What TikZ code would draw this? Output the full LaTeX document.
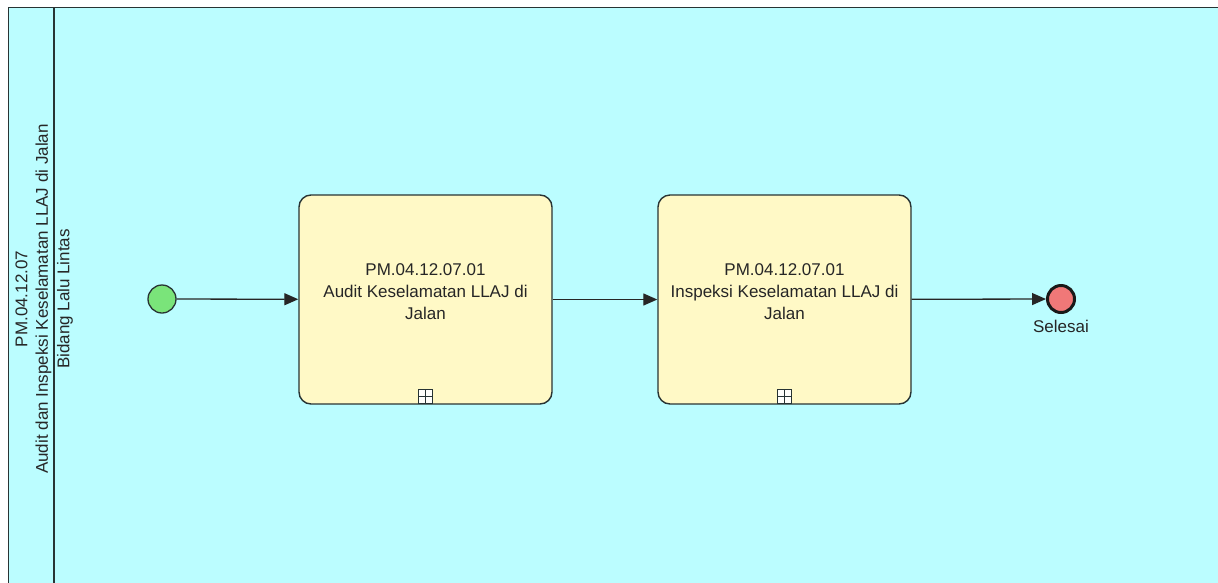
\documentclass[tikz,border=0pt]{standalone}
\usepackage{fontspec}
\setmainfont{Liberation Sans}
\usetikzlibrary{arrows.meta}
\definecolor{poolbg}{RGB}{187,253,255}
\definecolor{taskfill}{RGB}{255,249,198}
\definecolor{edgecol}{RGB}{40,52,52}
\definecolor{startfill}{RGB}{122,228,122}
\definecolor{endfill}{RGB}{240,120,120}
\tikzset{
  txt/.style={font=\fontsize{17}{21.7}\selectfont, inner sep=0pt, align=center, text=black!85},
  task/.style={draw=edgecol, line width=1.4pt, fill=taskfill, rounded corners=12pt,
    minimum width=253pt, minimum height=209pt, inner sep=0pt},
  startev/.style={circle, draw=edgecol, line width=1.3pt, fill=startfill, minimum size=28pt, inner sep=0pt},
  endev/.style={circle, draw=black!90, line width=3pt, fill=endfill, minimum size=27pt, inner sep=0pt},
  flow/.style={draw=black!85, line width=1.3pt, -{Triangle[length=14pt,width=12pt]}},
  marker/.style={draw=edgecol, line width=1pt, fill=white!95!taskfill, minimum size=14pt, inner sep=0pt},
}
\begin{document}
\begin{tikzpicture}[x=1pt,y=-1pt]
\useasboundingbox (0,0) rectangle (1218,582);
\fill[white] (0,0) rectangle (1218,582);
% pool
\draw[draw=edgecol, line width=1.6pt, fill=poolbg] (8.5,7.5) rectangle (1240,610);
\draw[draw=edgecol, line width=2.6pt] (54,7.5) -- (54,610);
% lane labels
\node[txt, rotate=90, font=\fontsize{17}{20.5}\selectfont] (pool) at (33.5,299)
  {PM.04.12.07\\Audit dan Inspeksi Keselamatan LLAJ di Jalan};
\node[txt, rotate=90] (lane) at (65,299) {Bidang Lalu Lintas};
% events and tasks
\node[startev] (start) at (162,299) {};
\node[task] (t1) at (425.5,299.5) {};
\node[txt] (t1txt) at ([yshift=8pt]t1.center) {PM.04.12.07.01\\Audit Keselamatan LLAJ di\\Jalan};
\node[marker, anchor=south] (m1) at ([yshift=0.7pt]t1.south) {};
\draw[edgecol, line width=1pt] (m1.north) -- (m1.south) (m1.west) -- (m1.east);
\node[task] (t2) at (784.5,299.5) {};
\node[txt] (t2txt) at ([yshift=8pt]t2.center) {PM.04.12.07.01\\Inspeksi Keselamatan LLAJ di\\Jalan};
\node[marker, anchor=south] (m2) at ([yshift=0.7pt]t2.south) {};
\draw[edgecol, line width=1pt] (m2.north) -- (m2.south) (m2.west) -- (m2.east);
\node[endev] (end) at (1061,299) {};
\node[txt, anchor=north] (endlbl) at (1061,319.5) {Selesai};
% flows
\draw[flow] (start) -- (t1);
\draw[flow] (t1) -- (t2);
\draw[flow] (t2) -- (end);
\end{tikzpicture}
\end{document}
